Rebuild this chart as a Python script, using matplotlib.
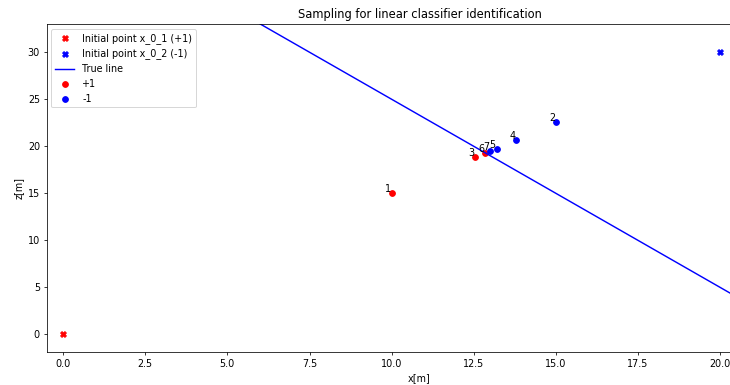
import matplotlib
matplotlib.use("Agg")
import matplotlib.pyplot as plt
from matplotlib.ticker import MultipleLocator, FormatStrFormatter
import numpy as np

# Initial points of the two classes
init_pos = (0.0, 0.0)     # x_0_1, class +1
init_neg = (20.0, 30.0)   # x_0_2, class -1

# True separating line z = slope * x + intercept
line_slope = -2.0
line_intercept = 45.0

# Sampled points, in sampling order
sample_ids = [1, 2, 3, 4, 5, 6, 7]
sample_x = [10.0, 15.0, 12.55, 13.8, 13.2, 12.85, 13.0]
sample_z = [15.0, 22.6, 18.9, 20.7, 19.7, 19.3, 19.5]
sample_cls = [1, -1, 1, -1, -1, 1, -1]

DPI = 69
W, H = 730.0, 385.0
fig = plt.figure(figsize=(W / DPI, H / DPI), dpi=DPI)

xlim = (-0.5, 22.2)
ylim = (-1.9, 33.0)
px_per_x = 32.85
left_px, top_px, bottom_px = 46.7, 24.0, 352.3
width_px = (xlim[1] - xlim[0]) * px_per_x
ax = fig.add_axes([left_px / W, 1 - bottom_px / H,
                   width_px / W, (bottom_px - top_px) / H])

ax.scatter([init_pos[0]], [init_pos[1]], c="red", marker="X",
           label="Initial point x_0_1 (+1)")
ax.scatter([init_neg[0]], [init_neg[1]], c="blue", marker="X",
           label="Initial point x_0_2 (-1)")

xs = np.linspace(0, 25, 200)
ax.plot(xs, line_slope * xs + line_intercept, color="blue", label="True line")

sx = np.array(sample_x)
sz = np.array(sample_z)
cls = np.array(sample_cls)
ax.scatter(sx[cls == 1], sz[cls == 1], c="red", label="+1")
ax.scatter(sx[cls == -1], sz[cls == -1], c="blue", label="-1")

for i, x, z in zip(sample_ids, sample_x, sample_z):
    ax.annotate(str(i), (x, z), textcoords="offset points", xytext=(-1, 1),
                ha="right", va="baseline")

ax.set_xlim(*xlim)
ax.set_ylim(*ylim)
ax.xaxis.set_major_locator(MultipleLocator(2.5))
ax.xaxis.set_major_formatter(FormatStrFormatter("%.1f"))
ax.yaxis.set_major_locator(MultipleLocator(5))
ax.set_xlabel("x[m]")
ax.set_ylabel("z[m]")
ax.set_title("Sampling for linear classifier identification")
ax.legend(loc="upper left")

fig.savefig("out.png", dpi=DPI)
